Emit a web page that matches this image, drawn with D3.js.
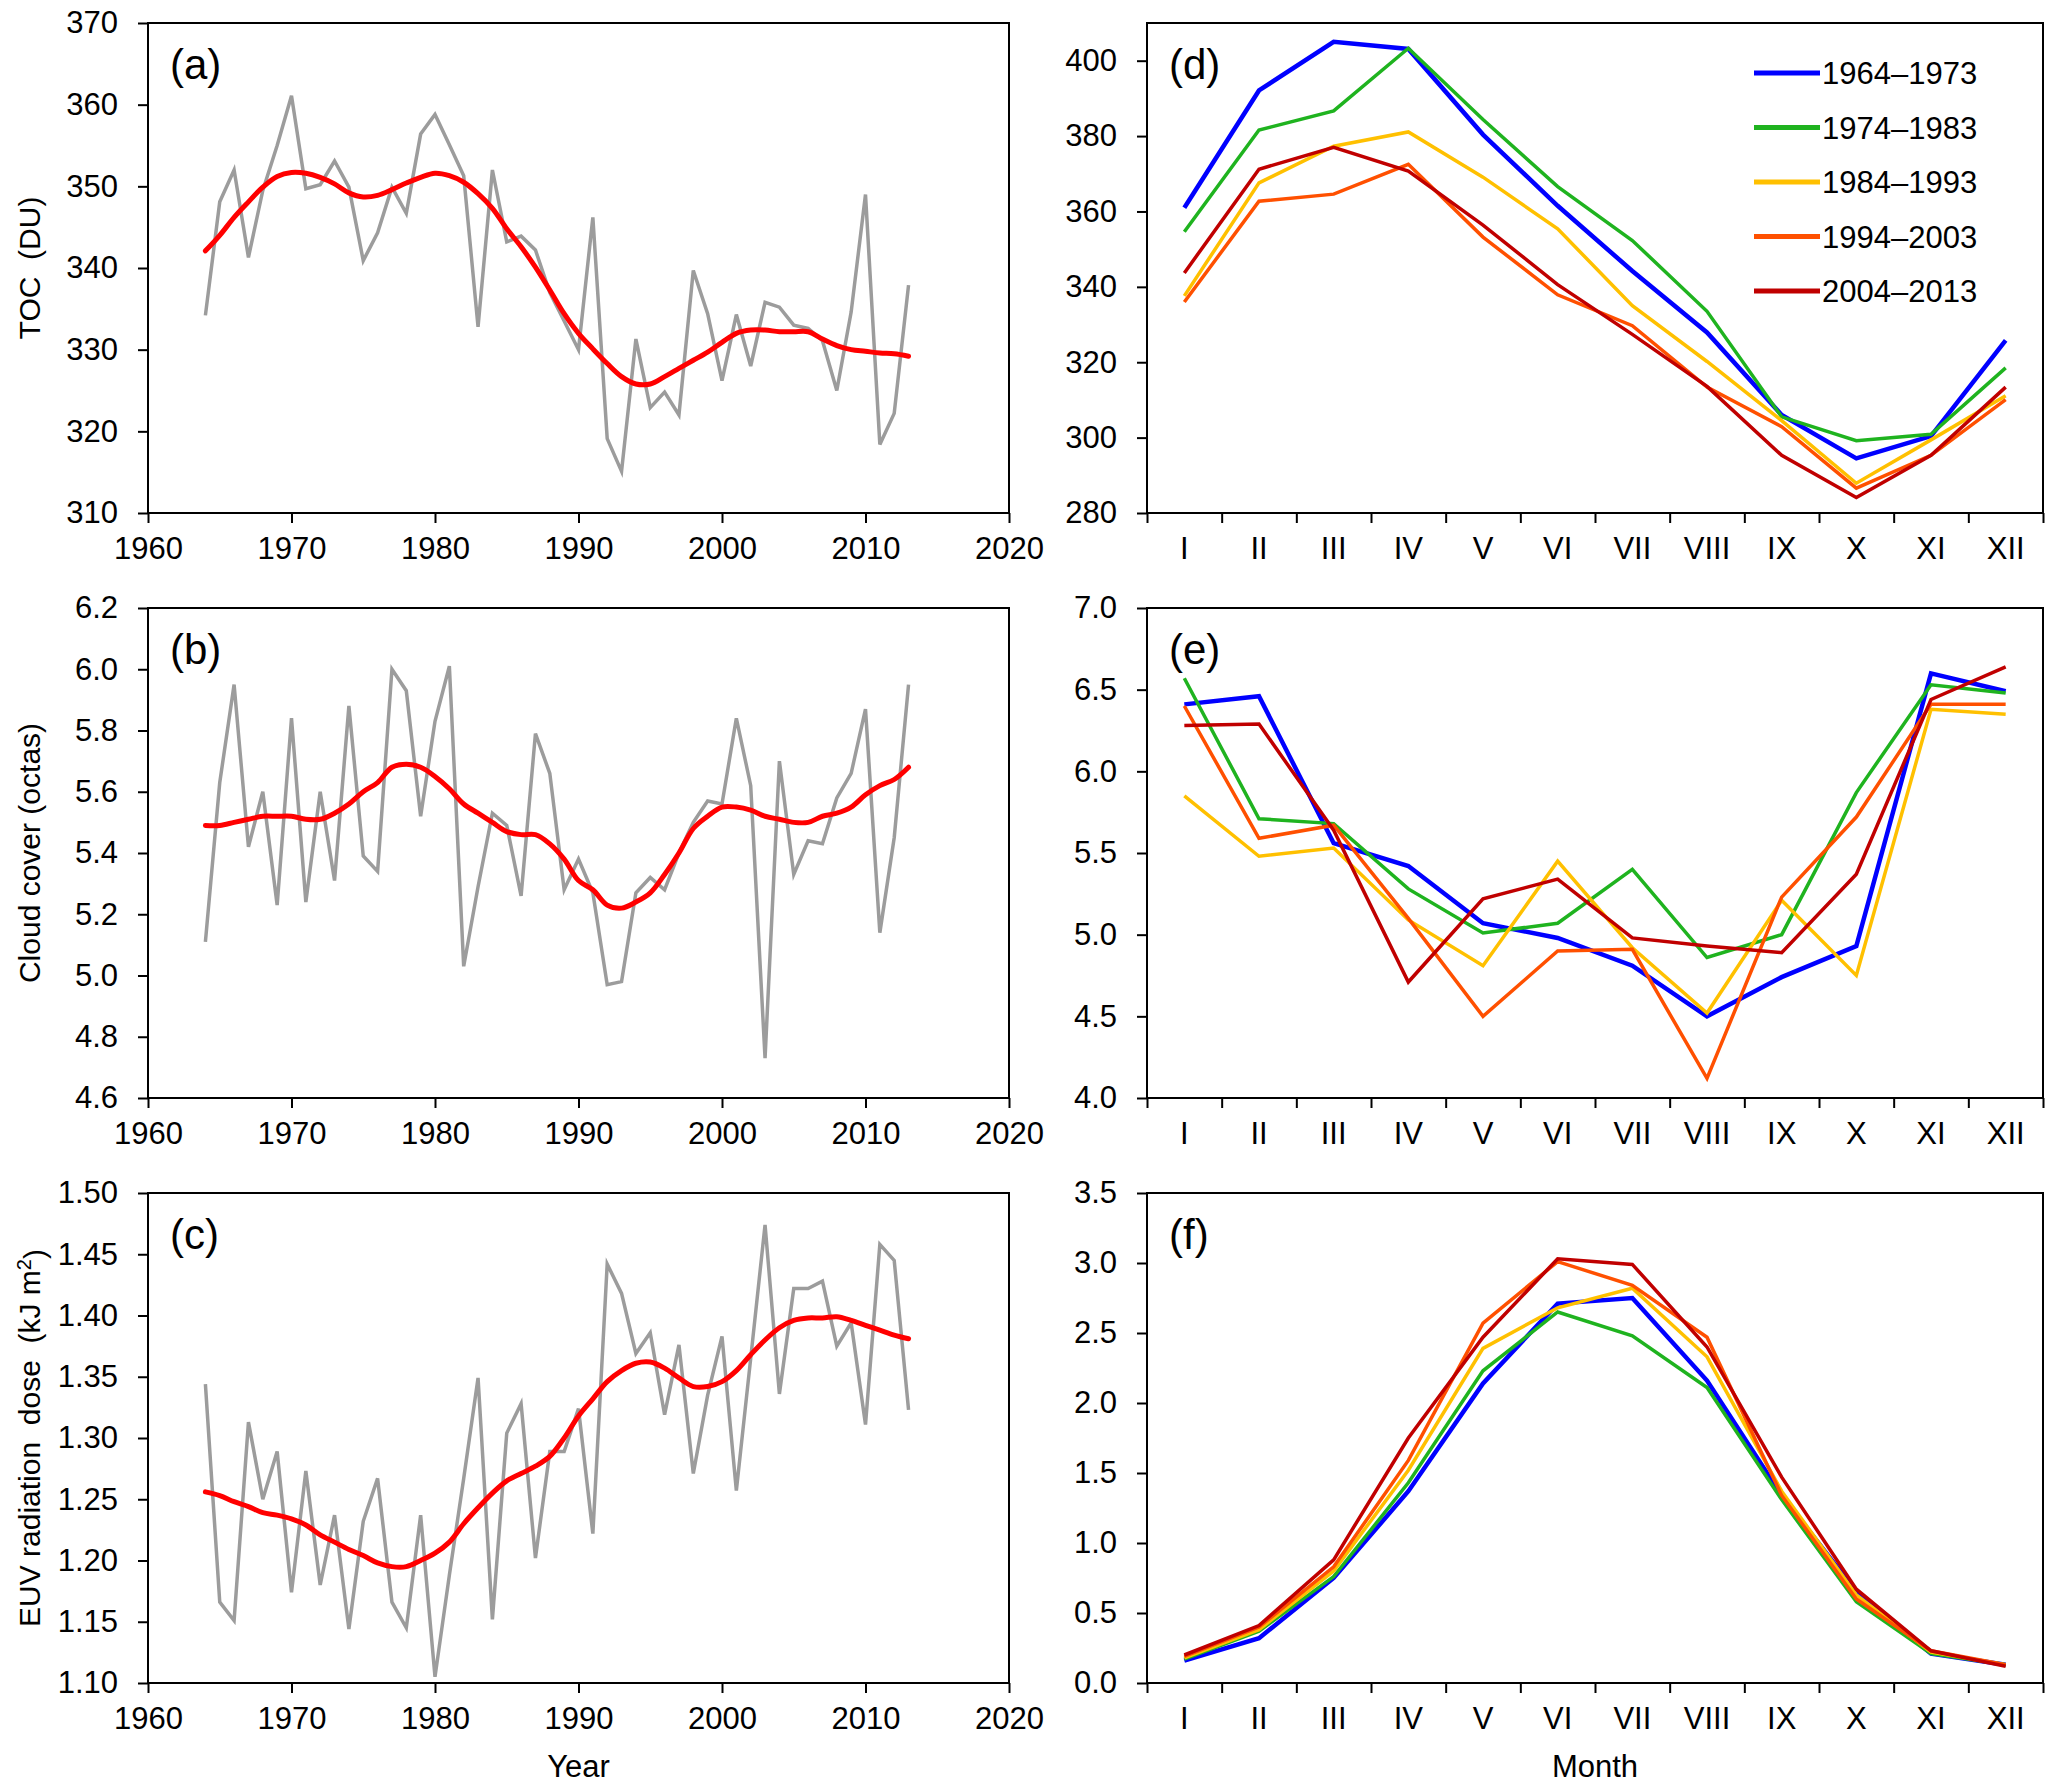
<!DOCTYPE html>
<html>
<head>
<meta charset="utf-8">
<script src="https://cdn.jsdelivr.net/npm/d3@7"></script>
<style>
  body { margin: 0; background: #fff; }
  text { font-family: "Liberation Sans", Arial, sans-serif; fill: #000; }
</style>
</head>
<body>
<div id="fig"></div>
<script>

// annual series, 1964-2013
const years = [1964, 1965, 1966, 1967, 1968, 1969, 1970, 1971, 1972, 1973,
  1974, 1975, 1976, 1977, 1978, 1979, 1980, 1981, 1982, 1983,
  1984, 1985, 1986, 1987, 1988, 1989, 1990, 1991, 1992, 1993,
  1994, 1995, 1996, 1997, 1998, 1999, 2000, 2001, 2002, 2003,
  2004, 2005, 2006, 2007, 2008, 2009, 2010, 2011, 2012, 2013];

const tocAnnual = [334.2, 348.1, 352.0, 341.3, 349.5, 355.0, 361.1, 349.7, 350.2, 353.1,
  349.9, 340.9, 344.3, 349.9, 346.7, 356.4, 358.8, 355.1, 351.3, 332.8,
  352.0, 343.2, 343.9, 342.2, 337.0, 333.5, 330.0, 346.2, 319.1, 315.1,
  331.3, 322.9, 324.8, 322.0, 339.7, 334.4, 326.2, 334.3, 328.0, 335.8,
  335.2, 333.0, 332.6, 331.1, 325.0, 334.6, 349.0, 318.4, 322.2, 337.9];
const tocSmooth = [342.1, 344.0, 346.2, 348.1, 349.9, 351.2, 351.7, 351.6, 351.1, 350.3,
  349.2, 348.7, 348.9, 349.6, 350.4, 351.1, 351.6, 351.3, 350.5, 349.1,
  347.3, 344.8, 342.6, 340.1, 337.3, 334.4, 332.0, 330.1, 328.3, 326.7,
  325.8, 325.8, 326.7, 327.7, 328.7, 329.7, 330.9, 332.0, 332.4, 332.4,
  332.2, 332.2, 332.2, 331.3, 330.5, 330.0, 329.8, 329.6, 329.5, 329.2];

const cloudAnnual = [5.11, 5.63, 5.95, 5.42, 5.60, 5.23, 5.84, 5.24, 5.60, 5.31,
  5.88, 5.39, 5.34, 6.00, 5.93, 5.52, 5.83, 6.01, 5.03, 5.29,
  5.53, 5.49, 5.26, 5.79, 5.66, 5.28, 5.38, 5.27, 4.97, 4.98,
  5.27, 5.32, 5.28, 5.40, 5.50, 5.57, 5.56, 5.84, 5.62, 4.73,
  5.70, 5.33, 5.44, 5.43, 5.58, 5.66, 5.87, 5.14, 5.45, 5.95];
const cloudSmooth = [5.49, 5.49, 5.50, 5.51, 5.52, 5.52, 5.52, 5.51, 5.51, 5.53,
  5.56, 5.60, 5.63, 5.68, 5.69, 5.68, 5.65, 5.61, 5.56, 5.53,
  5.50, 5.47, 5.46, 5.46, 5.43, 5.38, 5.31, 5.28, 5.23, 5.22,
  5.24, 5.27, 5.33, 5.40, 5.48, 5.52, 5.55, 5.55, 5.54, 5.52,
  5.51, 5.50, 5.50, 5.52, 5.53, 5.55, 5.59, 5.62, 5.64, 5.68];

const euvAnnual = [1.344, 1.166, 1.151, 1.313, 1.250, 1.289, 1.174, 1.273, 1.180, 1.237,
  1.144, 1.232, 1.267, 1.166, 1.145, 1.237, 1.105, 1.188, 1.267, 1.349,
  1.152, 1.304, 1.328, 1.202, 1.289, 1.289, 1.324, 1.222, 1.442, 1.418,
  1.369, 1.386, 1.319, 1.376, 1.271, 1.335, 1.383, 1.257, 1.365, 1.474,
  1.336, 1.422, 1.422, 1.428, 1.375, 1.394, 1.311, 1.458, 1.445, 1.323];
const euvSmooth = [1.256, 1.253, 1.248, 1.244, 1.239, 1.237, 1.234, 1.229, 1.221, 1.215,
  1.209, 1.204, 1.198, 1.195, 1.195, 1.200, 1.206, 1.215, 1.230, 1.243,
  1.255, 1.265, 1.271, 1.277, 1.285, 1.300, 1.318, 1.332, 1.346, 1.355,
  1.361, 1.362, 1.357, 1.349, 1.342, 1.342, 1.346, 1.355, 1.368, 1.380,
  1.390, 1.396, 1.398, 1.398, 1.399, 1.396, 1.392, 1.388, 1.384, 1.381];

// monthly means by decade
const months = ["I", "II", "III", "IV", "V", "VI", "VII", "VIII", "IX", "X", "XI", "XII"];
const decades = ["1964\u20131973", "1974\u20131983", "1984\u20131993", "1994\u20132003", "2004\u20132013"];
const decadeColors = ["#0000ff", "#1fb31f", "#ffc000", "#ff5000", "#c00000"];

const tocMonthly = [
  [361.0, 392.1, 405.0, 403.1, 380.4, 361.5, 344.2, 327.9, 306.0, 294.5, 300.4, 325.8],
  [354.6, 381.6, 386.7, 403.3, 384.4, 366.6, 352.3, 333.5, 305.5, 299.2, 300.9, 318.5],
  [337.6, 367.6, 377.3, 381.1, 369.1, 355.4, 335.0, 320.2, 304.5, 287.9, 299.4, 311.1],
  [336.0, 362.7, 364.6, 372.5, 353.2, 337.9, 329.7, 313.4, 302.9, 286.6, 295.3, 310.1],
  [343.7, 371.2, 377.0, 370.7, 356.4, 340.6, 327.4, 313.6, 295.3, 284.1, 295.3, 313.4]
];
const cloudMonthly = [
  [6.41, 6.46, 5.56, 5.42, 5.07, 4.98, 4.81, 4.50, 4.74, 4.93, 6.60, 6.49],
  [6.57, 5.71, 5.68, 5.28, 5.01, 5.07, 5.40, 4.86, 5.00, 5.87, 6.53, 6.48],
  [5.85, 5.48, 5.53, 5.09, 4.81, 5.45, 4.92, 4.52, 5.21, 4.75, 6.38, 6.35],
  [6.40, 5.59, 5.67, 5.10, 4.50, 4.90, 4.91, 4.12, 5.23, 5.72, 6.41, 6.41],
  [6.28, 6.29, 5.64, 4.71, 5.22, 5.34, 4.98, 4.93, 4.89, 5.37, 6.44, 6.64]
];
const uvMonthly = [
  [0.16, 0.32, 0.75, 1.37, 2.14, 2.71, 2.75, 2.16, 1.34, 0.65, 0.21, 0.13],
  [0.17, 0.37, 0.76, 1.43, 2.23, 2.65, 2.48, 2.11, 1.31, 0.58, 0.21, 0.13],
  [0.18, 0.38, 0.80, 1.52, 2.39, 2.68, 2.82, 2.33, 1.37, 0.63, 0.22, 0.13],
  [0.19, 0.40, 0.83, 1.59, 2.57, 3.01, 2.84, 2.47, 1.34, 0.60, 0.23, 0.13],
  [0.20, 0.41, 0.88, 1.75, 2.47, 3.03, 2.99, 2.40, 1.47, 0.67, 0.23, 0.12]
];

// tick labels
const yearTicks = [1960, 1970, 1980, 1990, 2000, 2010, 2020];
const tocTicks = [310, 320, 330, 340, 350, 360, 370];
const cloudTicks = [4.6, 4.8, 5.0, 5.2, 5.4, 5.6, 5.8, 6.0, 6.2];
const euvTicks = [1.10, 1.15, 1.20, 1.25, 1.30, 1.35, 1.40, 1.45, 1.50];
const tocMonthTicks = [280, 300, 320, 340, 360, 380, 400];
const cloudMonthTicks = [4.0, 4.5, 5.0, 5.5, 6.0, 6.5, 7.0];
const uvMonthTicks = [0.0, 0.5, 1.0, 1.5, 2.0, 2.5, 3.0, 3.5];

var width = 2067;
var height = 1789;

var left = { x0: 148, x1: 1009 };
var right = { x0: 1147, x1: 2043 };
var rows = [
  { top: 23, bottom: 513 },
  { top: 608, bottom: 1098 },
  { top: 1193, bottom: 1683 }
];

var tickFont = "31px";

var svg = d3.select("#fig").append("svg")
  .attr("width", width)
  .attr("height", height)
  .style("display", "block");

function frame(g, w, h) {
  g.append("rect")
    .attr("width", w)
    .attr("height", h)
    .attr("fill", "none")
    .attr("stroke", "#000")
    .attr("stroke-width", 2);
}

function styleAxis(ax) {
  ax.select(".domain").remove();
  ax.selectAll(".tick line").attr("stroke", "#000").attr("stroke-width", 2);
  ax.selectAll("text").style("font-size", tickFont).attr("fill", "#000");
}

function panelLabel(g, txt) {
  g.append("text")
    .attr("x", 22)
    .attr("y", 56)
    .style("font-size", "42px")
    .text(txt);
}

function yearPanel(row, annual, smooth, ticks, fmt, tag) {
  var w = left.x1 - left.x0;
  var h = rows[row].bottom - rows[row].top;
  var g = svg.append("g")
    .attr("transform", "translate(" + left.x0 + "," + rows[row].top + ")");

  var x = d3.scaleLinear().domain([1960, 2020]).range([0, w]);
  var y = d3.scaleLinear().domain([ticks[0], ticks[ticks.length - 1]]).range([h, 0]);

  var xAx = g.append("g").attr("transform", "translate(0," + h + ")")
    .call(d3.axisBottom(x).tickValues(yearTicks).tickFormat(d3.format("d"))
      .tickSize(10).tickPadding(14));
  styleAxis(xAx);

  var yAx = g.append("g")
    .call(d3.axisLeft(y).tickValues(ticks).tickFormat(d3.format(fmt))
      .tickSize(10).tickPadding(20));
  styleAxis(yAx);

  var pts = years.map((d, i) => [d, annual[i]]);
  g.append("path")
    .datum(pts)
    .attr("fill", "none")
    .attr("stroke", "#9c9c9c")
    .attr("stroke-width", 3.5)
    .attr("d", d3.line().x(d => x(d[0])).y(d => y(d[1])));

  var sm = years.map((d, i) => [d, smooth[i]]);
  g.append("path")
    .datum(sm)
    .attr("fill", "none")
    .attr("stroke", "#ff0000")
    .attr("stroke-width", 5)
    .attr("stroke-linecap", "round")
    .attr("d", d3.line().curve(d3.curveCatmullRom).x(d => x(d[0])).y(d => y(d[1])));

  frame(g, w, h);
  panelLabel(g, tag);
  return g;
}

function monthPanel(row, data, ticks, fmt, domain, tag) {
  var w = right.x1 - right.x0;
  var h = rows[row].bottom - rows[row].top;
  var g = svg.append("g")
    .attr("transform", "translate(" + right.x0 + "," + rows[row].top + ")");

  var x = d3.scaleBand().domain(months).range([0, w]);
  var y = d3.scaleLinear().domain(domain).range([h, 0]);

  // tick marks sit on the month boundaries, labels in the middle
  var edge = d3.scaleLinear().domain([0, months.length]).range([0, w]);
  var tAx = g.append("g").attr("transform", "translate(0," + h + ")")
    .call(d3.axisBottom(edge).tickValues(d3.range(months.length + 1)).tickFormat("").tickSize(10));
  styleAxis(tAx);

  var lAx = g.append("g").attr("transform", "translate(0," + h + ")")
    .call(d3.axisBottom(x).tickSize(0).tickPadding(24));
  styleAxis(lAx);

  var yAx = g.append("g")
    .call(d3.axisLeft(y).tickValues(ticks).tickFormat(d3.format(fmt))
      .tickSize(10).tickPadding(20));
  styleAxis(yAx);

  var line = d3.line()
    .x((d, i) => x(months[i]) + x.bandwidth() / 2)
    .y(d => y(d));

  g.selectAll(".decade")
    .data(data)
    .enter().append("path")
    .attr("class", "decade")
    .attr("fill", "none")
    .attr("stroke", (d, i) => decadeColors[i])
    .attr("stroke-width", (d, i) => i === 0 ? 4.5 : 3.5)
    .attr("d", line);

  frame(g, w, h);
  panelLabel(g, tag);
  return g;
}

yearPanel(0, tocAnnual, tocSmooth, tocTicks, "d", "(a)");
yearPanel(1, cloudAnnual, cloudSmooth, cloudTicks, ".1f", "(b)");
yearPanel(2, euvAnnual, euvSmooth, euvTicks, ".2f", "(c)");

var gd = monthPanel(0, tocMonthly, tocMonthTicks, "d", [280, 410], "(d)");
monthPanel(1, cloudMonthly, cloudMonthTicks, ".1f", [4, 7], "(e)");
monthPanel(2, uvMonthly, uvMonthTicks, ".1f", [0, 3.5], "(f)");

// legend in panel d
var key = gd.selectAll(".key")
  .data(decades)
  .enter().append("g")
  .attr("class", "key")
  .attr("transform", (d, i) => "translate(" + (1754 - right.x0) + "," + (73 + 54.5 * i - rows[0].top) + ")");

key.append("line")
  .attr("x1", 0).attr("x2", 66)
  .attr("stroke", (d, i) => decadeColors[i])
  .attr("stroke-width", 5);

key.append("text")
  .attr("x", 68)
  .attr("dy", "0.36em")
  .style("font-size", tickFont)
  .text(d => d);

// axis titles
function yTitle(row, parts) {
  var cy = (rows[row].top + rows[row].bottom) / 2;
  var t = svg.append("text")
    .attr("transform", "translate(40," + cy + ") rotate(-90)")
    .attr("text-anchor", "middle")
    .style("font-size", "30px")
    .style("white-space", "pre");
  parts.forEach(p => {
    var s = t.append("tspan").text(p.t);
    if (p.sup) s.attr("dy", "-0.45em").style("font-size", "20px");
    if (p.down) s.attr("dy", "0.45em");
  });
}

yTitle(0, [{ t: "TOC  (DU)" }]);
yTitle(1, [{ t: "Cloud cover (octas)" }]);
yTitle(2, [{ t: "EUV radiation  dose  (kJ m" }, { t: "2", sup: true }, { t: ")", down: true }]);

svg.append("text")
  .attr("x", (left.x0 + left.x1) / 2)
  .attr("y", 1777)
  .attr("text-anchor", "middle")
  .style("font-size", "31px")
  .text("Year");

svg.append("text")
  .attr("x", (right.x0 + right.x1) / 2)
  .attr("y", 1777)
  .attr("text-anchor", "middle")
  .style("font-size", "31px")
  .text("Month");

</script>
</body>
</html>
